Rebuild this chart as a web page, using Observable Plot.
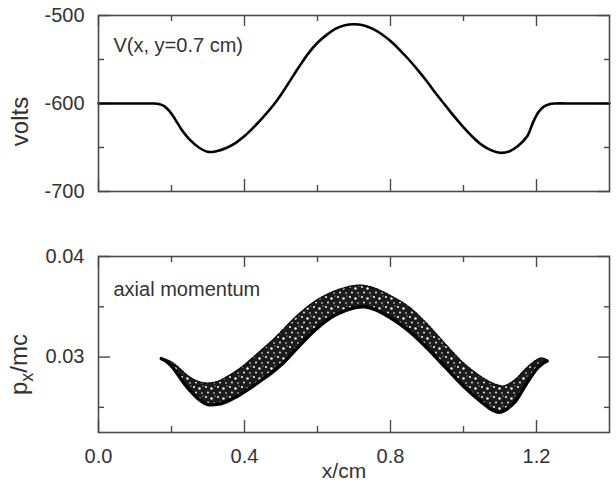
<!DOCTYPE html>
<html>
<head>
<meta charset="utf-8">
<script src="https://cdn.jsdelivr.net/npm/d3@7"></script>
<script src="https://cdn.jsdelivr.net/npm/@observablehq/plot@0.6"></script>
<style>
  html, body { margin: 0; padding: 0; background: #fff; }
  body { width: 616px; height: 485px; overflow: hidden; }
  #chart svg { display: block; }
</style>
</head>
<body>
<div id="chart"></div>
<script>
// ---------- data ----------
// top panel: potential V(x, y=0.7 cm) in volts
const vx = [0, 0.05, 0.10, 0.15, 0.165, 0.18, 0.195, 0.21, 0.225, 0.25, 0.275, 0.30, 0.325, 0.35, 0.375, 0.40,
            0.425, 0.45, 0.475, 0.50, 0.525, 0.55, 0.575, 0.60, 0.625, 0.65, 0.675, 0.70, 0.725, 0.75, 0.775,
            0.80, 0.825, 0.85, 0.875, 0.90, 0.925, 0.95, 0.975, 1.00, 1.025, 1.05, 1.075, 1.10, 1.125, 1.15,
            1.175, 1.19, 1.205, 1.22, 1.235, 1.25, 1.30, 1.35, 1.40];
const volts = [-600, -600, -600, -600, -600.5, -603, -609, -618, -628, -641, -650, -655, -654, -650.5, -645, -637,
               -627, -616, -604, -590, -574, -558, -543, -531, -522, -515, -511, -510, -511, -515, -521,
               -529, -539, -550, -562, -575, -589, -602, -615, -627, -638, -647, -653, -656, -654.5, -648,
               -637, -622, -610, -603.5, -600.8, -600, -600, -600, -600];

// bottom panel: axial momentum band of particles (lower and upper edge)
const bx    = [0.172, 0.185, 0.20, 0.215, 0.23, 0.25, 0.275, 0.30, 0.325, 0.35, 0.375, 0.40, 0.425, 0.45, 0.475,
               0.50, 0.55, 0.60, 0.65, 0.70, 0.73, 0.76, 0.80, 0.85, 0.90, 0.95, 1.00, 1.05, 1.08, 1.095, 1.11,
               1.14, 1.17, 1.20, 1.215, 1.229];
const pLow  = [0.02985, 0.0296, 0.0291, 0.0284, 0.0276, 0.0267, 0.0258, 0.02528, 0.0253, 0.02555, 0.0260, 0.02655,
               0.02715, 0.0278, 0.02845, 0.0292, 0.0311, 0.0329, 0.0342, 0.0349, 0.0350, 0.0347, 0.0339, 0.0326,
               0.0309, 0.0290, 0.0271, 0.0255, 0.0247, 0.0245, 0.02465, 0.0255, 0.0272, 0.0288, 0.0293, 0.0296];
const pHigh = [0.02985, 0.02975, 0.0295, 0.0291, 0.0286, 0.0280, 0.02755, 0.0274, 0.02755, 0.0280, 0.02855, 0.0292,
               0.0300, 0.0308, 0.0316, 0.0325, 0.0343, 0.0357, 0.0366, 0.0371, 0.0371, 0.0368, 0.0361, 0.0350,
               0.0333, 0.0313, 0.0294, 0.0280, 0.0274, 0.0272, 0.0271, 0.0277, 0.0288, 0.0297, 0.0299, 0.0297];

// ticks
const xMajor = [0, 0.4, 0.8, 1.2];
const xMinor = [0.2, 0.6, 1.0];
const xLabels = [0, 0.4, 0.8, 1.2];
const vMajor = [-700, -600, -500];
const vMinor = [-650, -550];
const pMajor = [0.03, 0.04];
const pMinor = [0.025, 0.035];

const texts = {
  topNote: "V(x, y=0.7 cm)",
  bottomNote: "axial momentum",
  topY: "volts",
  bottomY: "px/mc",
  xTitle: "x/cm"
};

// ---------- styling ----------
const FONT = "'Liberation Sans', Arial, Helvetica, sans-serif";
const INK = "#333";
const FRAME = "#4a4a4a";
const W = 616;

function tickMarks(yMaj, yMin) {
  const o = {color: FRAME, strokeWidth: 1.4, label: null, text: null};
  return [
    Plot.axisX(xMajor, {...o, anchor: "bottom", tickSize: -12}),
    Plot.axisX(xMinor, {...o, anchor: "bottom", tickSize: -6}),
    Plot.axisX(xMajor, {...o, anchor: "top", tickSize: -10}),
    Plot.axisX(xMinor, {...o, anchor: "top", tickSize: -5}),
    Plot.axisY(yMaj, {...o, anchor: "left", tickSize: -12}),
    Plot.axisY(yMin, {...o, anchor: "left", tickSize: -6}),
    Plot.axisY(yMaj, {...o, anchor: "right", tickSize: -12}),
    Plot.axisY(yMin, {...o, anchor: "right", tickSize: -6})
  ];
}

const topPlot = Plot.plot({
  width: W, height: 225,
  marginLeft: 98, marginRight: 7, marginTop: 15, marginBottom: 34,
  style: {fontFamily: FONT, background: "#fff", color: INK},
  x: {domain: [0, 1.4]},
  y: {domain: [-700, -500]},
  marks: [
    ...tickMarks(vMajor, vMinor),
    Plot.axisY(vMajor, {anchor: "left", tickSize: 0, tickPadding: 14, tickFormat: d => String(d),
                        fontSize: 20, color: INK, label: null}),
    Plot.line(vx, {x: vx, y: volts, stroke: "#000", strokeWidth: 2.6, curve: "catmull-rom"}),
    Plot.frame({stroke: FRAME, strokeWidth: 1.6}),
    Plot.text([texts.topNote], {frameAnchor: "top-left", dx: 15, dy: 22, textAnchor: "start",
                                lineAnchor: "top", fontSize: 20, fill: INK}),
    Plot.text([texts.topY], {frameAnchor: "left", dx: -78, dy: 18, rotate: -90, textAnchor: "middle",
                             lineAnchor: "middle", fontSize: 24, fill: INK})
  ]
});

const bottomPlot = Plot.plot({
  width: W, height: 260,
  marginLeft: 98, marginRight: 7, marginTop: 31, marginBottom: 53,
  style: {fontFamily: FONT, background: "#fff", color: INK},
  x: {domain: [0, 1.4]},
  y: {domain: [0.0225, 0.04]},
  marks: [
    ...tickMarks(pMajor, pMinor),
    Plot.axisY(pMajor, {anchor: "left", tickSize: 0, tickPadding: 14, tickFormat: d3.format(".2f"),
                        fontSize: 20, color: INK, label: null}),
    Plot.axisX(xLabels, {anchor: "bottom", tickSize: 0, tickPadding: 16, tickFormat: d3.format(".1f"),
                         fontSize: 20, color: INK, label: null}),
    Plot.areaY(bx, {x: bx, y1: pLow, y2: pHigh, fill: "url(#speckle)", curve: "catmull-rom"}),
    Plot.line(bx, {x: bx, y: pHigh, stroke: "#111", strokeWidth: 1.6, strokeDasharray: "2,1.6",
                   curve: "catmull-rom"}),
    Plot.line(bx, {x: bx, y: pLow, stroke: "#000", strokeWidth: 3.4, curve: "catmull-rom"}),
    Plot.frame({stroke: FRAME, strokeWidth: 1.6}),
    Plot.text([texts.bottomNote], {frameAnchor: "top-left", dx: 15, dy: 25, textAnchor: "start",
                                   lineAnchor: "top", fontSize: 20, fill: INK}),
    Plot.text([texts.bottomY], {frameAnchor: "left", dx: -79, dy: 20, rotate: -90, textAnchor: "middle",
                                lineAnchor: "middle", fontSize: 24, fill: INK}),
    Plot.text([texts.xTitle], {frameAnchor: "bottom", dx: -10, dy: 31, textAnchor: "middle",
                               lineAnchor: "top", fontSize: 21, fill: INK})
  ]
});

// speckle texture for the dense particle band
const ns = "http://www.w3.org/2000/svg";
const defs = document.createElementNS(ns, "defs");
defs.innerHTML =
  '<pattern id="speckle" width="12" height="10" patternUnits="userSpaceOnUse">' +
  '<rect width="12" height="10" fill="#1c1c1c"/>' +
  '<circle cx="2" cy="2" r="1" fill="#fff"/>' +
  '<circle cx="7.5" cy="3.5" r="1.2" fill="#fff"/>' +
  '<circle cx="4" cy="7.5" r="0.9" fill="#fff"/>' +
  '<circle cx="10" cy="8" r="0.8" fill="#fff"/>' +
  '<circle cx="11" cy="1" r="0.6" fill="#ddd"/>' +
  '</pattern>';
bottomPlot.insertBefore(defs, bottomPlot.firstChild);

// subscript in p_x/mc
bottomPlot.querySelectorAll("text").forEach(t => {
  if (t.textContent === texts.bottomY) {
    t.textContent = "";
    const a = document.createElementNS(ns, "tspan"); a.textContent = "p";
    const b = document.createElementNS(ns, "tspan"); b.textContent = "x";
    b.setAttribute("dy", "0.3em"); b.setAttribute("font-size", "0.75em");
    const c = document.createElementNS(ns, "tspan"); c.textContent = "/mc";
    c.setAttribute("dy", "-0.22em");
    t.append(a, b, c);
  }
});

document.getElementById("chart").append(topPlot, bottomPlot);
</script>
</body>
</html>
